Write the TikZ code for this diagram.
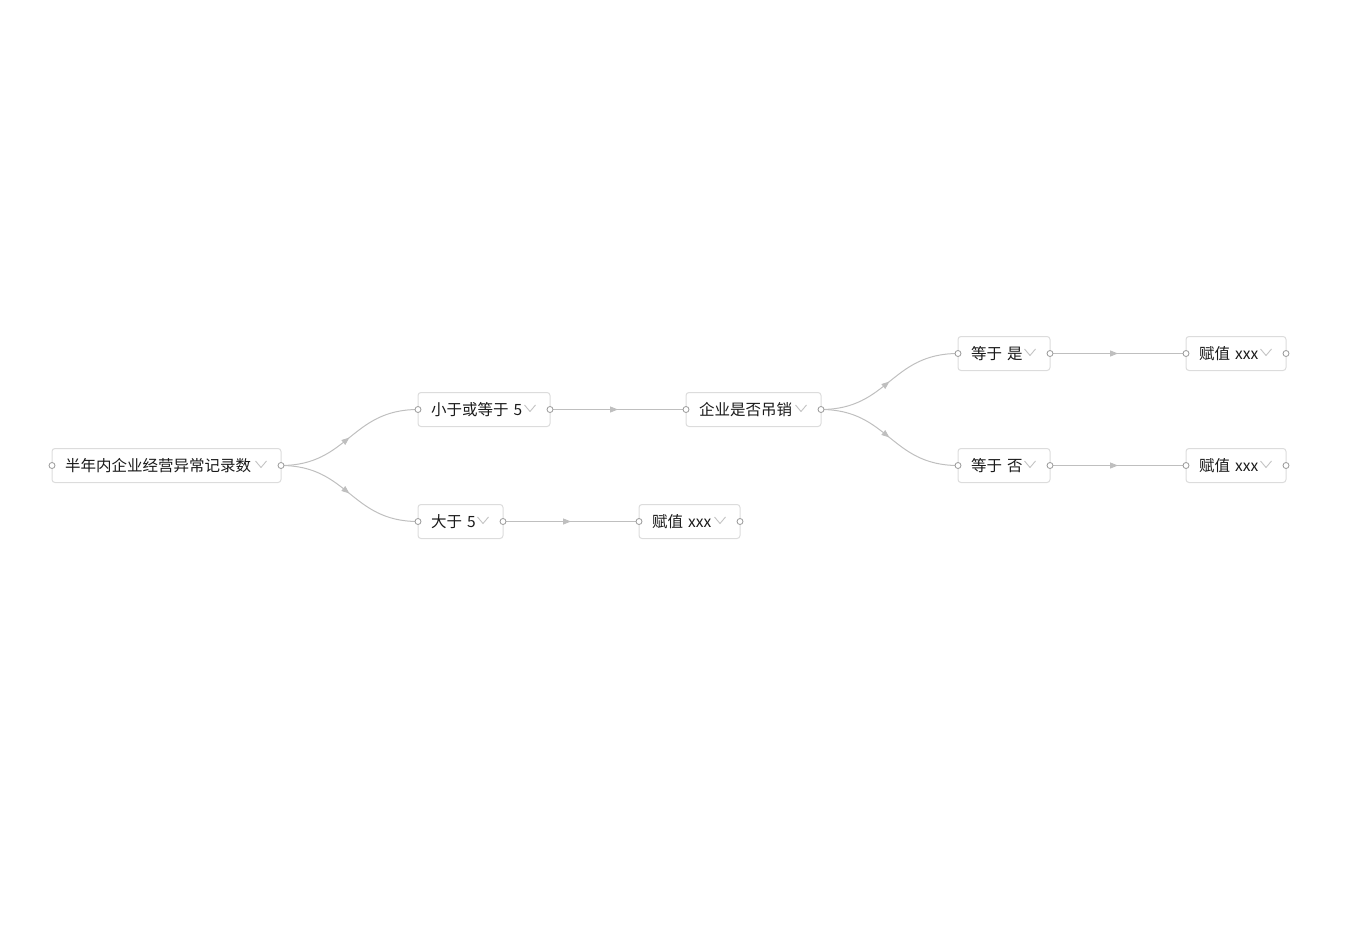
\documentclass[tikz,border=0pt]{standalone}
\usepackage{fontspec}
\setmainfont{Noto Sans CJK SC}
\usetikzlibrary{arrows.meta,decorations.markings}
\definecolor{boxline}{HTML}{DCDCDC}
\definecolor{connline}{HTML}{BFBFBF}
\definecolor{portline}{HTML}{999999}
\definecolor{chevcol}{HTML}{C4C4C4}
\definecolor{txt}{HTML}{1A1A1A}
\begin{document}
\begin{tikzpicture}[x=1pt,y=-1pt,
  box/.style={draw=boxline, line width=1pt, rounded corners=3pt, fill=white,
    anchor=west, minimum height=34pt, inner xsep=13pt, inner ysep=0pt, outer sep=0pt,
    align=left, text=txt, font=\fontsize{15.5}{18}\selectfont},
  conn/.style={draw=connline, line width=1pt,
    postaction={decorate, decoration={markings,
      mark=at position 0.5 with {\arrow[connline]{Triangle[length=8pt,width=6pt]}}}}},
  portc/.style={draw=portline, fill=white, line width=0.8pt},
  chev/.style={draw=chevcol, line width=0.9pt}
]
\useasboundingbox (0,0) rectangle (1360,952);

\node[box, text width=203pt] (A) at (52,465.5) {半年内企业经营异常记录数};
\node[box, text width=106pt] (B) at (418,409.5) {小于或等于 5};
\node[box, text width=59pt]  (C) at (418,521.5) {大于 5};
\node[box, text width=75pt]  (D) at (639,521.5) {赋值 xxx};
\node[box, text width=109pt] (E) at (686,409.5) {企业是否吊销};
\node[box, text width=66pt]  (F) at (958,353.5) {等于 是};
\node[box, text width=66pt]  (G) at (958,465.5) {等于 否};
\node[box, text width=74pt]  (H) at (1186,353.5) {赋值 xxx};
\node[box, text width=74pt]  (I) at (1186,465.5) {赋值 xxx};

\foreach \n in {A,B,C,D,E,F,G,H,I}{
  \draw[chev] ([xshift=-25.5pt,yshift=4.5pt]\n.east) -- ([xshift=-20pt,yshift=-2pt]\n.east) -- ([xshift=-14.5pt,yshift=4.5pt]\n.east);
}

\draw[conn] (A.east) .. controls ([xshift=67.5pt]A.east) and ([xshift=-67.5pt]B.west) .. (B.west);
\draw[conn] (A.east) .. controls ([xshift=67.5pt]A.east) and ([xshift=-67.5pt]C.west) .. (C.west);
\draw[conn] (E.east) .. controls ([xshift=67.5pt]E.east) and ([xshift=-67.5pt]F.west) .. (F.west);
\draw[conn] (E.east) .. controls ([xshift=67.5pt]E.east) and ([xshift=-67.5pt]G.west) .. (G.west);
\draw[conn] (B.east) -- (E.west);
\draw[conn] (C.east) -- (D.west);
\draw[conn] (F.east) -- (H.west);
\draw[conn] (G.east) -- (I.west);

\foreach \n in {A,B,C,D,E,F,G,H,I}{
  \draw[portc] (\n.west) circle (3pt);
  \draw[portc] (\n.east) circle (3pt);
}
\end{tikzpicture}
\end{document}
